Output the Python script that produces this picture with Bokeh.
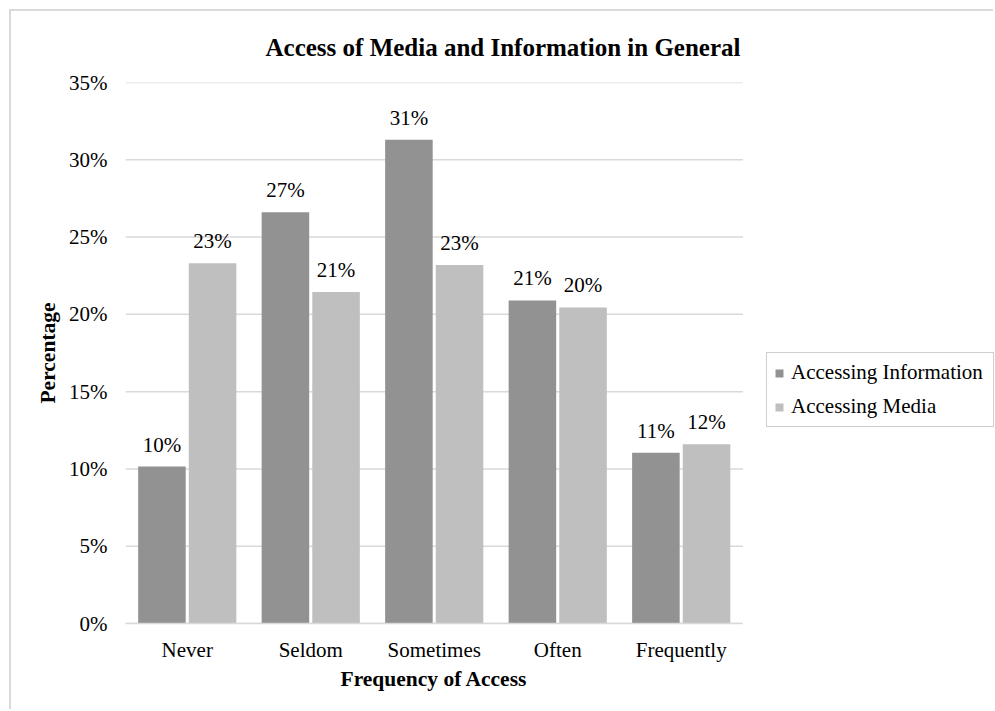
from bokeh.plotting import figure
from bokeh.models import (ColumnDataSource, Range1d, FixedTicker, PrintfTickFormatter,
                          LabelSet, Legend, LegendItem, Title)
from bokeh.transform import dodge
from bokeh.embed import file_html
from bokeh.resources import INLINE

# ---- data ----
categories = ["Never", "Seldom", "Sometimes", "Often", "Frequently"]
info_values = [10.15, 26.6, 31.3, 20.9, 11.05]     # Accessing Information (%)
media_values = [23.3, 21.45, 23.2, 20.45, 11.6]    # Accessing Media (%)
series_names = ["Accessing Information", "Accessing Media"]
y_ticks = [0, 5, 10, 15, 20, 25, 30, 35]
title_text = "Access of Media and Information in General"
x_title = "Frequency of Access"
y_title = "Percentage"

FONT = "Liberation Serif"
C_INFO = "#929292"
C_MEDIA = "#bfbfbf"
GRID = "#d9d9d9"

x_idx = list(range(len(categories)))
src = ColumnDataSource(dict(
    x=x_idx,
    cat=categories,
    info=info_values,
    media=media_values,
    info_lbl=[f"{round(v)}%" for v in info_values],
    media_lbl=[f"{round(v)}%" for v in media_values],
))

# frame extends to the right edge so the legend (drawn inside it) is not clipped;
# grid lines and axis line are limited to the category area
X_START = -0.5
X_END = 6.545
cat_bounds = (-0.5, len(categories) - 0.5)

p = figure(x_range=Range1d(X_START, X_END), y_range=Range1d(0, 35),
           width=984, height=700, output_backend="svg", toolbar_location=None,
           min_border_left=114, min_border_right=0, min_border_top=71,
           min_border_bottom=88)
p.margin = (9, 0, 0, 9)
p.styles = {"border-left": "2px solid #d9d9d9", "border-top": "2px solid #d9d9d9"}
p.outline_line_color = None
p.background_fill_color = "white"
p.border_fill_color = "white"

# horizontal grid lines over the category area only
p.segment(x0=cat_bounds[0], x1=cat_bounds[1], y0=y_ticks, y1=y_ticks,
          line_color=GRID, line_width=1.5, level="underlay")

OFF = 0.205
W = 0.385
r1 = p.vbar(x=dodge("x", -OFF), top="info", width=W, source=src,
            fill_color=C_INFO, line_color=None)
r2 = p.vbar(x=dodge("x", OFF), top="media", width=W, source=src,
            fill_color=C_MEDIA, line_color=None)

for col, off in (("info_lbl", -OFF), ("media_lbl", OFF)):
    ls = LabelSet(x=dodge("x", off), y=col.replace("_lbl", ""),
                  text=col, source=src, text_align="center", text_baseline="alphabetic",
                  y_offset=15, text_font=FONT, text_font_size="21px", text_color="black")
    p.add_layout(ls)

# chart title
p.title = Title(text=title_text, text_font=FONT, text_font_size="25px",
                text_font_style="bold", text_color="black", align="left",
                vertical_align="top", offset=140, standoff=40)

# axes
p.yaxis.axis_label = y_title
for ax in (p.xaxis, p.yaxis):
    ax.axis_label_text_font = FONT
    ax.axis_label_text_font_size = "21.5px"
    ax.axis_label_text_font_style = "bold"
    ax.axis_label_text_color = "black"
    ax.major_label_text_font = FONT
    ax.major_label_text_font_size = "21px"
    ax.major_label_text_color = "black"
    ax.major_tick_line_color = None
    ax.minor_tick_line_color = None
p.xaxis.ticker = FixedTicker(ticks=x_idx)
p.xaxis.major_label_overrides = {i: c for i, c in zip(x_idx, categories)}
p.xaxis.bounds = cat_bounds
p.xaxis.axis_line_color = GRID
p.xaxis.axis_line_width = 1.5
p.xaxis.major_label_standoff = 8
p.yaxis.axis_line_color = None
p.yaxis.ticker = FixedTicker(ticks=y_ticks)
p.yaxis.formatter = PrintfTickFormatter(format="%d%%")
p.yaxis.major_label_standoff = 12
p.yaxis.axis_label_standoff = 6

p.xgrid.grid_line_color = None
p.ygrid.grid_line_color = None

# x-axis title, centred under the category area (placed as a below title)
x_title_obj = Title(text=x_title, text_font=FONT, text_font_size="21.5px",
                    text_font_style="bold", text_color="black", align="left",
                    vertical_align="top", offset=215, standoff=4)
p.add_layout(x_title_obj, "below")

legend = Legend(items=[LegendItem(label=series_names[0], renderers=[r1]),
                       LegendItem(label=series_names[1], renderers=[r2])],
                location=(641, 196), orientation="vertical",
                label_text_font=FONT, label_text_font_size="21px", label_text_color="black",
                glyph_width=10, glyph_height=10, label_height=25, label_width=195,
                label_standoff=7, padding=7, spacing=9, margin=0,
                border_line_color="#a0a0a0", border_line_width=1,
                background_fill_color="white", background_fill_alpha=1)
p.add_layout(legend)

open("out.html", "w").write(file_html(p, INLINE))
